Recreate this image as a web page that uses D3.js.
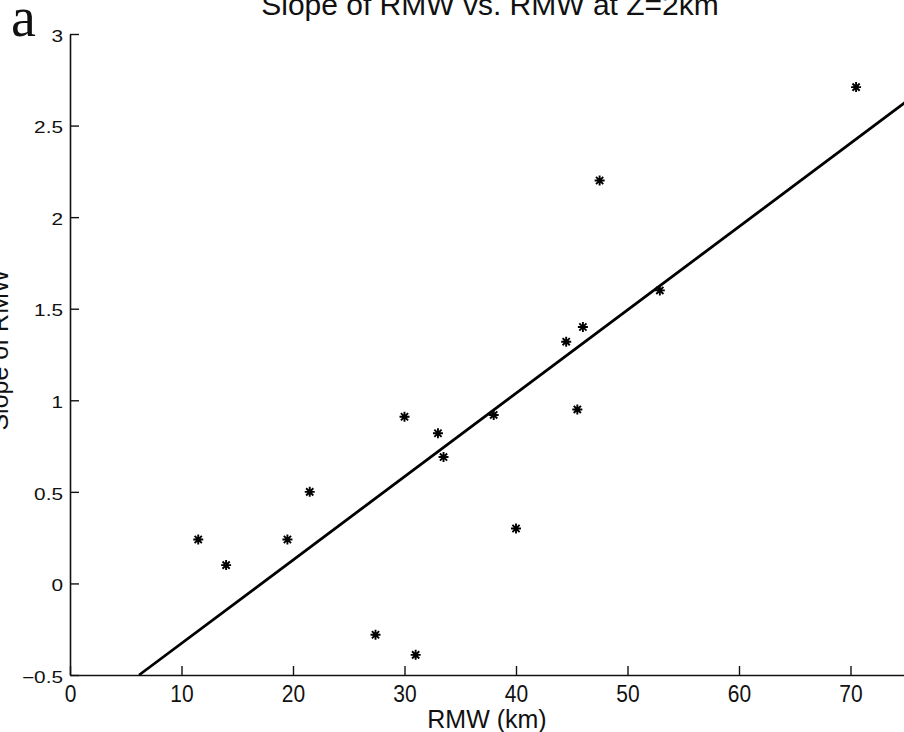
<!DOCTYPE html>
<html>
<head>
<meta charset="utf-8">
<style>
  body { margin: 0; background: #fff; }
  svg { display: block; }
  text { font-family: "Liberation Sans", Arial, sans-serif; fill: #111; }
</style>
</head>
<body>
<div class="container"></div>
<script src="https://d3js.org/d3.v7.min.js"></script>
<script>
  // data
  var rmw   = [11.5, 14, 19.5, 21.5, 27.4, 31, 30, 33, 33.5, 38, 40, 44.5, 46, 45.5, 47.5, 52.9, 70.5];
  var slope = [0.24, 0.10, 0.24, 0.50, -0.28, -0.39, 0.91, 0.82, 0.69, 0.92, 0.30, 1.32, 1.40, 0.95, 2.20, 1.60, 2.71];
  var xTicks = [0, 10, 20, 30, 40, 50, 60, 70];
  var yTicks = [-0.5, 0, 0.5, 1, 1.5, 2, 2.5, 3];
  // least squares line drawn in the figure
  var fitSlope = 0.0455, fitIntercept = -0.782;

  var W = 904, H = 732;
  var svg = d3.select('.container').append('svg')
      .attr('width', W).attr('height', H);

  var x = d3.scaleLinear().domain([0, 80]).range([70, 962]),
      y = d3.scaleLinear().domain([-0.5, 3]).range([675, 34]);

  // x axis, ticks pointing inward
  var xAxis = svg.append('g')
      .attr('transform', 'translate(0,' + y(-0.5) + ')')
      .call(d3.axisBottom(x).tickValues(xTicks).tickSize(-9).tickSizeOuter(0).tickPadding(0));
  xAxis.select('.domain').attr('stroke', '#111').attr('stroke-width', 1.6);
  xAxis.selectAll('.tick line').attr('stroke', '#111').attr('stroke-width', 1.4);
  xAxis.selectAll('.tick text')
      .attr('y', 0).attr('dy', 0)
      .attr('transform', 'translate(0,27) scale(1,1.12)')
      .style('font-size', '21px');

  // y axis
  var yAxis = svg.append('g')
      .attr('transform', 'translate(' + x(0) + ',0)')
      .call(d3.axisLeft(y).tickValues(yTicks).tickSize(-9).tickSizeOuter(0)
        .tickFormat(function(d) { return d3.format('')(d); }));
  yAxis.select('.domain').attr('stroke', '#111').attr('stroke-width', 1.6);
  yAxis.selectAll('.tick line').attr('stroke', '#111').attr('stroke-width', 1.4);
  yAxis.selectAll('.tick text')
      .attr('x', 0).attr('dy', '0.45em')
      .attr('transform', 'translate(-7,0) scale(1.3,1)')
      .style('font-size', '16px');

  // fitted line
  var x0 = (-0.5 - fitIntercept) / fitSlope;
  svg.append('path')
      .datum([x0, 80])
      .attr('fill', 'none')
      .attr('stroke', '#000')
      .attr('stroke-width', 2.8)
      .attr('d', d3.line()
        .x(function(d) { return x(d); })
        .y(function(d) { return y(fitIntercept + fitSlope * d); }));

  // asterisk marker like matlab's '*'
  var star = {
    draw: function(ctx, size) {
      var r = Math.sqrt(size) / 2, q = r * 0.72;
      ctx.moveTo(-r, 0); ctx.lineTo(r, 0);
      ctx.moveTo(0, -r); ctx.lineTo(0, r);
      ctx.moveTo(-q, -q); ctx.lineTo(q, q);
      ctx.moveTo(-q, q); ctx.lineTo(q, -q);
    }
  };
  svg.append('g').selectAll('path')
      .data(d3.range(rmw.length))
      .join('path')
      .attr('transform', function(i) { return 'translate(' + x(rmw[i]) + ',' + y(slope[i]) + ')'; })
      .attr('d', d3.symbol().type(star).size(100))
      .attr('fill', 'none')
      .attr('stroke', '#000')
      .attr('stroke-width', 1.9);

  // labels
  svg.append('text')
      .attr('x', 490).attr('y', 15)
      .attr('text-anchor', 'middle')
      .style('font-size', '30px')
      .text('Slope of RMW vs. RMW at Z=2km');

  svg.append('text')
      .attr('x', 487).attr('y', 728)
      .attr('text-anchor', 'middle')
      .style('font-size', '25px')
      .text('RMW (km)');

  svg.append('text')
      .attr('transform', 'translate(7.5,350) rotate(-90)')
      .attr('text-anchor', 'middle')
      .style('font-size', '25px')
      .text('Slope of RMW');

  svg.append('text')
      .attr('x', 11).attr('y', 36)
      .style('font-family', '"Liberation Serif", "DejaVu Serif", serif')
      .style('font-size', '56px')
      .text('a');
</script>
</body>
</html>
